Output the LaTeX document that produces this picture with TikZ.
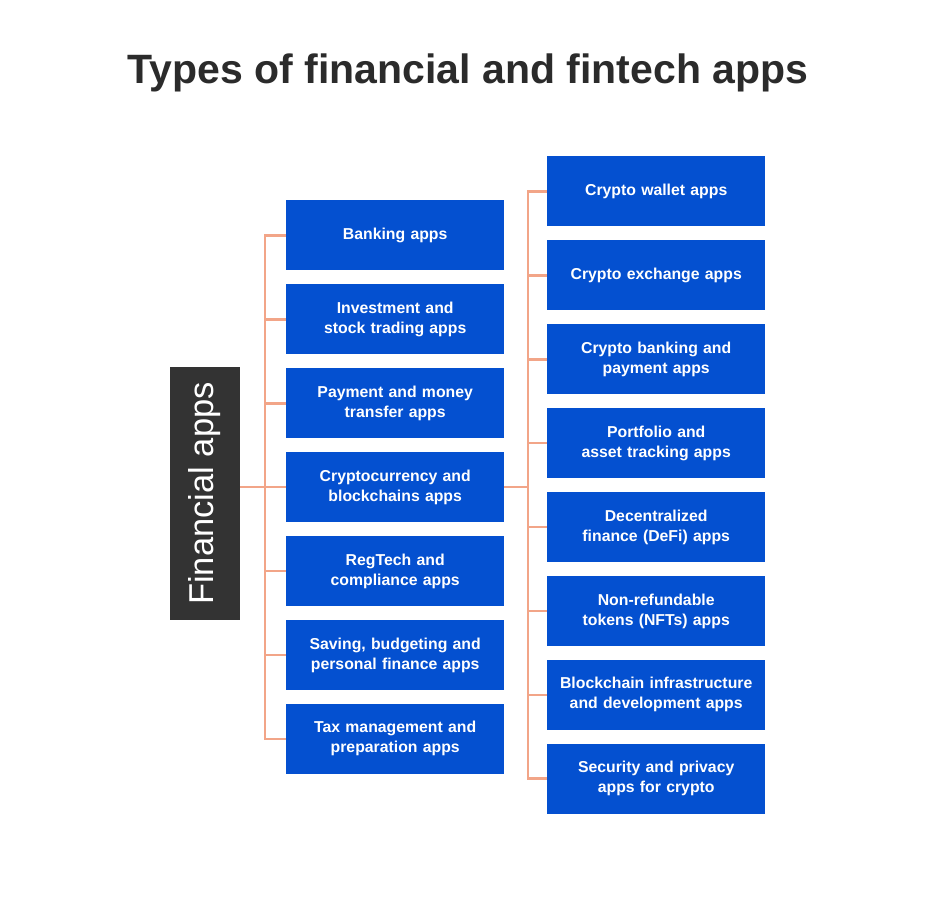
\documentclass[tikz,border=0pt]{standalone}
\usepackage{fontspec}
\setmainfont{Liberation Sans}
\begin{document}
\begin{tikzpicture}[x=1pt, y=-1pt]
\definecolor{appblue}{HTML}{0450D0}
\definecolor{rootgray}{HTML}{333333}
\definecolor{titlegray}{HTML}{2B2B2B}
\definecolor{linkorange}{HTML}{F2A588}
\useasboundingbox (0,0) rectangle (936,922);
\node (title) [anchor=base, text=titlegray, font=\fontsize{41}{46}\selectfont\bfseries] at (468,83) {Types of financial and fintech apps};
\node (root) [rotate=90, fill=rootgray, text=white, minimum width=253pt, minimum height=70pt, inner sep=0pt, font=\fontsize{34.5}{38}\selectfont] at (205,493.5) {Financial apps};
\matrix (lcol) [anchor=north west, inner sep=0pt, row sep=13.7pt, every node/.style={
	shape=rectangle,
	text width=210pt,
	minimum width=218pt,
	minimum height=70pt,
	inner sep=0pt,
	align=center,
	font=\fontsize{15.8}{20}\selectfont\bfseries,
	text=white,
	fill=appblue,
}] at (286,200) {
	\node (l1) {Banking apps}; \\
	\node (l2) {Investment and\\stock trading apps}; \\
	\node (l3) {Payment and money\\transfer apps}; \\
	\node (l4) {Cryptocurrency and\\blockchains apps}; \\
	\node (l5) {RegTech and\\compliance apps}; \\
	\node (l6) {Saving, budgeting and\\personal finance apps}; \\
	\node (l7) {Tax management and\\preparation apps}; \\
};
\matrix (rcol) [anchor=north west, inner sep=0pt, row sep=13.7pt, every node/.style={
	shape=rectangle,
	text width=214pt,
	minimum width=218pt,
	minimum height=70pt,
	inner sep=0pt,
	align=center,
	font=\fontsize{15.8}{20}\selectfont\bfseries,
	text=white,
	fill=appblue,
}] at (547,156) {
	\node (r1) {Crypto wallet apps}; \\
	\node (r2) {Crypto exchange apps}; \\
	\node (r3) {Crypto banking and\\payment apps}; \\
	\node (r4) {Portfolio and\\asset tracking apps}; \\
	\node (r5) {Decentralized\\finance (DeFi) apps}; \\
	\node (r6) {Non-refundable\\tokens (NFTs) apps}; \\
	\node (r7) {Blockchain infrastructure\\and development apps}; \\
	\node (r8) {Security and privacy\\apps for crypto}; \\
};
\begin{scope}[linkorange, line width=2.6pt]
\draw (root.south |- l4.west) -- (l4.west);
\draw (l1.west) -- ++(-21,0) |- (l7.west);
\foreach \i in {2,...,6} \draw (l\i.west) -- ++(-21,0);
\draw (l4.east) -- ++(24,0);
\draw (r1.west) -- ++(-19,0) |- (r8.west);
\foreach \i in {2,...,7} \draw (r\i.west) -- ++(-19,0);
\end{scope}
\end{tikzpicture}
\end{document}
